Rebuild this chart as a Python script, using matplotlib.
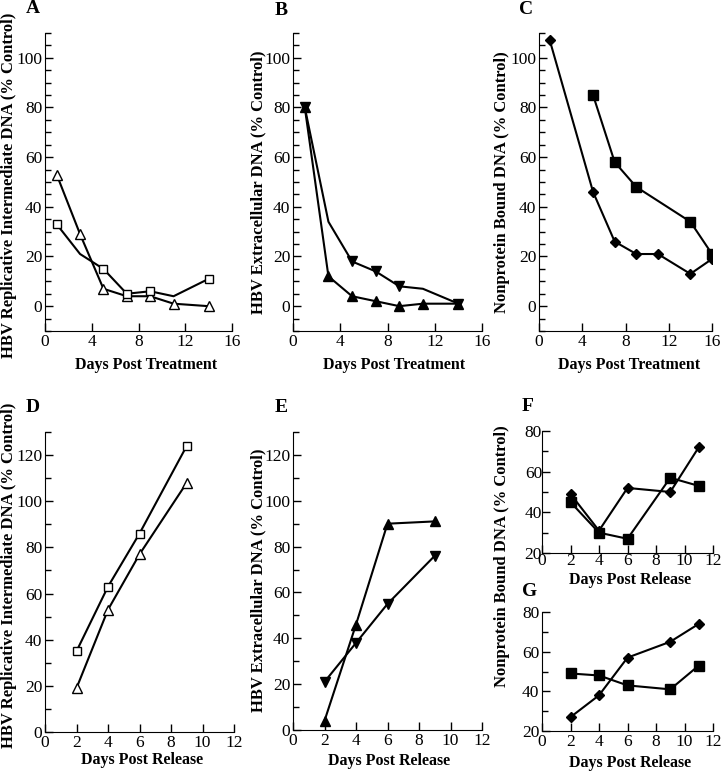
import matplotlib
matplotlib.use('Agg')
import matplotlib.pyplot as plt
from matplotlib.ticker import MultipleLocator

plt.rcParams['font.family'] = 'Liberation Serif'

# A - replicative intermediate DNA, post treatment
a_tri_x = [1, 3, 5, 7, 9, 11, 14]
a_tri_y = [53, 29, 7, 4, 4, 1, 0]
a_sq_x = [1, 3, 5, 7, 9, 11, 14]
a_sq_y = [33, 21, 15, 5, 6, 4, 11]
a_sq_marked = [0, 2, 3, 4, 6]

# B - extracellular DNA, post treatment
b_up_x = [1, 3, 5, 7, 9, 11, 14]
b_up_y = [80, 12, 4, 2, 0, 1, 1]
b_dn_x = [1, 3, 5, 7, 9, 11, 14]
b_dn_y = [80, 34, 18, 14, 8, 7, 1]
b_dn_marked = [0, 2, 3, 4, 6]

# C - nonprotein bound DNA, post treatment
c_dia_x = [1, 5, 7, 9, 11, 14, 16]
c_dia_y = [107, 46, 26, 21, 21, 13, 19]
c_sq_x = [5, 7, 9, 14, 16]
c_sq_y = [85, 58, 48, 34, 21]

# D - replicative intermediate DNA, post release
d_x = [2, 4, 6, 9]
d_sq_y = [35, 63, 86, 124]
d_tri_y = [19, 53, 77, 108]

# E - extracellular DNA, post release
e_x = [2, 4, 6, 9]
e_up_y = [4, 46, 90, 91]
e_dn_y = [21, 38, 55, 76]

# F, G - nonprotein bound DNA, post release
fg_x = [2, 4, 6, 9, 11]
f_dia_y = [49, 31, 52, 50, 72]
f_sq_y = [45, 30, 27, 57, 53]
g_dia_y = [27, 38, 57, 65, 74]
g_sq_y = [49, 48, 43, 41, 53]

W, H = 724, 773
fig = plt.figure(figsize=(W / 100, H / 100), dpi=100)


def make_ax(left, right, top, bottom):
    return fig.add_axes([left / W, 1 - bottom / H, (right - left) / W, (bottom - top) / H])


def fig_text(x, y, s, **kw):
    fig.text(x / W, 1 - y / H, s, fontweight='bold', **kw)


def style(ax, xlim, xstep, ylim, ystep, yminor, pad=2):
    ax.set_xlim(*xlim)
    ax.set_ylim(*ylim)
    ax.xaxis.set_major_locator(MultipleLocator(xstep))
    ax.yaxis.set_major_locator(MultipleLocator(ystep))
    ax.yaxis.set_minor_locator(MultipleLocator(yminor))
    for s in ['top', 'right']:
        ax.spines[s].set_visible(False)
    ax.tick_params(axis='both', which='major', direction='in', length=6, width=1,
                   labelsize=12.5, pad=pad)
    ax.tick_params(axis='y', which='minor', direction='in', length=4, width=1)


lw = 1.5
k = 'black'

# A
ax = make_ax(45, 232, 33, 331)
ax.plot(a_tri_x, a_tri_y, color=k, lw=lw, marker='^', ms=6.5, mfc='white', mec=k)
ax.plot(a_sq_x, a_sq_y, color=k, lw=lw, marker='s', ms=6, mfc='white', mec=k,
        markevery=a_sq_marked)
style(ax, (0, 16), 4, (-10, 110), 20, 5)

# B
ax = make_ax(293, 482, 33, 331)
ax.plot(b_up_x, b_up_y, color=k, lw=lw, marker='^', ms=7)
ax.plot(b_dn_x, b_dn_y, color=k, lw=lw, marker='v', ms=7, markevery=b_dn_marked)
style(ax, (0, 16), 4, (-10, 110), 20, 5)

# C
ax = make_ax(539, 712, 33, 331)
ax.plot(c_dia_x, c_dia_y, color=k, lw=lw, marker='D', ms=5)
ax.plot(c_sq_x, c_sq_y, color=k, lw=lw, marker='s', ms=7.5)
style(ax, (0, 16), 4, (-10, 110), 20, 5)

# D
ax = make_ax(45, 234, 432, 732)
ax.plot(d_x, d_sq_y, color=k, lw=lw, marker='s', ms=6, mfc='white', mec=k)
ax.plot(d_x, d_tri_y, color=k, lw=lw, marker='^', ms=6.5, mfc='white', mec=k)
style(ax, (0, 12), 2, (0, 130), 20, 10)

# E
ax = make_ax(293, 482, 432, 730)
ax.plot(e_x, e_up_y, color=k, lw=lw, marker='^', ms=7)
ax.plot(e_x, e_dn_y, color=k, lw=lw, marker='v', ms=7)
style(ax, (0, 12), 2, (0, 130), 20, 10)

# F
ax = make_ax(542, 713, 431, 553)
ax.plot(fg_x, f_dia_y, color=k, lw=lw, marker='D', ms=5)
ax.plot(fg_x, f_sq_y, color=k, lw=lw, marker='s', ms=7)
style(ax, (0, 12), 2, (20, 80), 20, 10, pad=0)

# G
ax = make_ax(542, 713, 612, 731)
ax.plot(fg_x, g_dia_y, color=k, lw=lw, marker='D', ms=5)
ax.plot(fg_x, g_sq_y, color=k, lw=lw, marker='s', ms=7)
style(ax, (0, 12), 2, (20, 80), 20, 10)

# panel letters
for x, y, s in [(26, 13, 'A'), (275, 15, 'B'), (519, 14, 'C'),
                (26, 412, 'D'), (275, 412, 'E'), (522, 411, 'F'), (522, 596, 'G')]:
    fig_text(x, y, s, fontsize=14, ha='left', va='baseline')

# x labels
xl = dict(fontsize=11.5, ha='center', va='center')
fig_text(146, 365, 'Days Post Treatment', **xl)
fig_text(394, 365, 'Days Post Treatment', **xl)
fig_text(629, 365, 'Days Post Treatment', **xl)
fig_text(142, 760, 'Days Post Release', **xl)
fig_text(389, 761, 'Days Post Release', **xl)
fig_text(630, 580, 'Days Post Release', **xl)
fig_text(630, 763, 'Days Post Release', **xl)

# y labels
yl = dict(fontsize=12, rotation=90, ha='center', va='center')
fig_text(9, 185, 'HBV Replicative Intermediate DNA (% Control)', **yl)
fig_text(258, 182, 'HBV Extracellular DNA (% Control)', **yl)
fig_text(502, 182, 'Nonprotein Bound DNA (% Control)', **yl)
fig_text(9, 575, 'HBV Replicative Intermediate DNA (% Control)', **yl)
fig_text(258, 580, 'HBV Extracellular DNA (% Control)', **yl)
fig_text(502, 556, 'Nonprotein Bound DNA (% Control)', **yl)

fig.savefig('out.png', dpi=100)
